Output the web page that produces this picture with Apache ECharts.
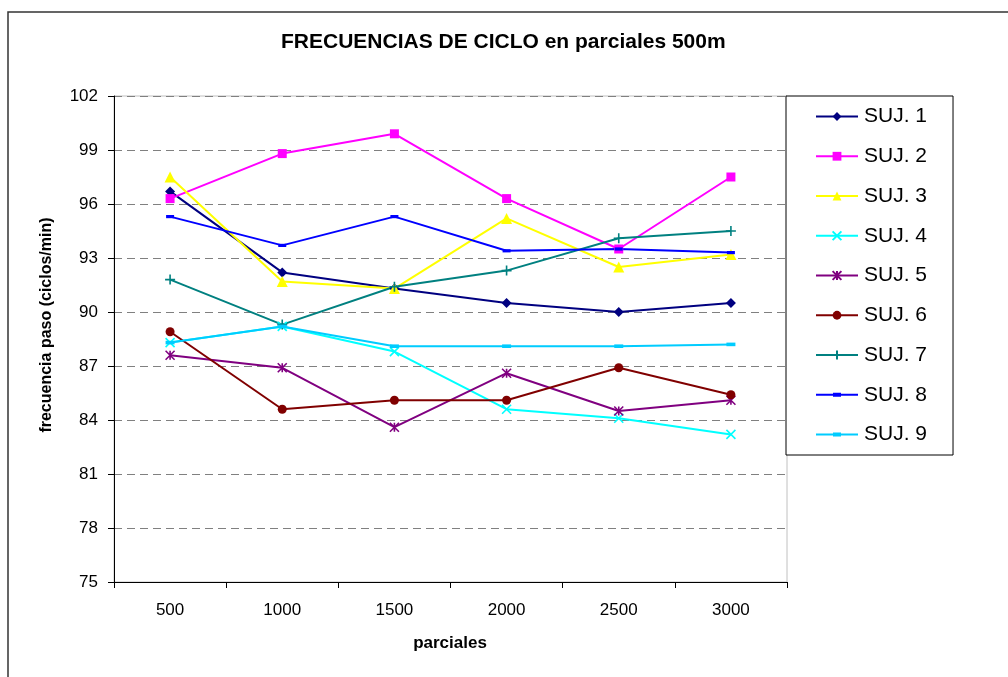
<!DOCTYPE html>
<html>
<head>
<meta charset="utf-8">
<script src="https://cdn.jsdelivr.net/npm/echarts@6/dist/echarts.min.js"></script>
<style>
html,body{margin:0;padding:0;background:#fff;}
#chart{width:1008px;height:677px;}
</style>
</head>
<body>
<div id="chart"></div>
<script>
var categories = ['500', '1000', '1500', '2000', '2500', '3000'];
var seriesNames = ['SUJ. 1', 'SUJ. 2', 'SUJ. 3', 'SUJ. 4', 'SUJ. 5', 'SUJ. 6', 'SUJ. 7', 'SUJ. 8', 'SUJ. 9'];
var suj1 = [96.7, 92.2, 91.3, 90.5, 90.0, 90.5];
var suj2 = [96.3, 98.8, 99.9, 96.3, 93.5, 97.5];
var suj3 = [97.5, 91.7, 91.3, 95.2, 92.5, 93.2];
var suj4 = [88.3, 89.2, 87.8, 84.6, 84.1, 83.2];
var suj5 = [87.6, 86.9, 83.6, 86.6, 84.5, 85.1];
var suj6 = [88.9, 84.6, 85.1, 85.1, 86.9, 85.4];
var suj7 = [91.8, 89.3, 91.4, 92.3, 94.1, 94.5];
var suj8 = [95.3, 93.7, 95.3, 93.4, 93.5, 93.3];
var suj9 = [88.3, 89.2, 88.1, 88.1, 88.1, 88.2];
var yTicks = [75, 78, 81, 84, 87, 90, 93, 96, 99, 102];

var allData = [suj1, suj2, suj3, suj4, suj5, suj6, suj7, suj8, suj9];
var colors = ['#000080', '#FF00FF', '#FFFF00', '#00FFFF', '#800080', '#800000', '#008080', '#0000FF', '#00CCFF'];
var dashPath = 'path://M0,3L10,3L10,7L0,7Z';
var symbols = [
  'diamond', 'rect', 'triangle',
  'path://M0,0L10,10M10,0L0,10',
  'path://M0,0L10,10M10,0L0,10M5,0L5,10',
  'circle',
  'path://M5,0L5,10M0,5L10,5',
  dashPath, dashPath
];
var sizes = [10, 9, 11, 9, 9, 9, 10, 8, 9];
var strokeSym = [false, false, false, true, true, false, true, false, false];
var legendDashIcon = 'path://M0,5L42,5L42,7L0,7ZM17,4L25,4L25,8L17,8Z';

var series = allData.map(function (d, i) {
  return {
    name: seriesNames[i],
    type: 'line',
    data: d,
    symbol: symbols[i],
    symbolSize: sizes[i],
    symbolKeepAspect: true,
    showAllSymbol: true,
    lineStyle: { color: colors[i], width: 2 },
    itemStyle: strokeSym[i]
      ? { color: colors[i], borderColor: colors[i], borderWidth: 1.6 }
      : { color: colors[i], borderWidth: 0 },
    emphasis: { disabled: true },
    animation: false
  };
});

var legendData = seriesNames.map(function (n, i) {
  return i >= 7 ? { name: n, icon: legendDashIcon } : { name: n };
});

var chart = echarts.init(document.getElementById('chart'), null, { renderer: 'canvas' });
chart.setOption({
  backgroundColor: '#fff',
  animation: false,
  title: {
    text: 'FRECUENCIAS DE CICLO en parciales 500m',
    left: 281,
    top: 32,
    padding: 0,
    textStyle: { fontFamily: 'Liberation Sans, Arial, sans-serif', fontSize: 21, fontWeight: 'bold', color: '#000' }
  },
  grid: {
    left: 114, top: 96, right: 221, bottom: 95,
    show: true, borderColor: '#c0c0c0', borderWidth: 1, backgroundColor: 'transparent'
  },
  legend: {
    orient: 'vertical',
    left: 786,
    top: 96,
    padding: [10, 26, 10, 29],
    itemWidth: 42,
    itemHeight: 11,
    itemGap: 18.75,
    backgroundColor: '#fff',
    borderColor: '#000',
    borderWidth: 1,
    textStyle: { fontFamily: 'Liberation Sans, Arial, sans-serif', fontSize: 21, color: '#000', lineHeight: 21, padding: [0, 0, 0, 1] },
    data: legendData
  },
  xAxis: {
    type: 'category',
    data: categories,
    boundaryGap: true,
    axisLine: { lineStyle: { color: '#000', width: 1 } },
    axisTick: { show: true, inside: false, length: 6, interval: 0, lineStyle: { color: '#000' } },
    axisLabel: { margin: 20, color: '#000', fontSize: 17, fontFamily: 'Liberation Sans, Arial, sans-serif', interval: 0 },
    splitLine: { show: false }
  },
  yAxis: {
    type: 'value',
    min: 75,
    max: 102,
    interval: 3,
    axisLine: { show: true, lineStyle: { color: '#000', width: 1 } },
    axisTick: { show: true, inside: false, length: 6, lineStyle: { color: '#000' } },
    axisLabel: {
      margin: 16, color: '#000', fontSize: 17, fontFamily: 'Liberation Sans, Arial, sans-serif',
      formatter: function (v) { return yTicks.indexOf(v) >= 0 ? String(v) : ''; }
    },
    splitLine: { show: true, lineStyle: { color: '#808080', type: [8, 5], width: 1 } }
  },
  graphic: [
    {
      type: 'rect',
      shape: { x: 8, y: 12, width: 1200, height: 900 },
      style: { fill: 'none', stroke: '#333', lineWidth: 1.5 },
      silent: true, z: 100
    },
    {
      type: 'text',
      x: 47, y: 325,
      rotation: Math.PI / 2,
      style: {
        text: 'frecuencia paso (ciclos/min)',
        fontFamily: 'Liberation Sans, Arial, sans-serif', fontSize: 16, fontWeight: 'bold',
        fill: '#000', align: 'center', verticalAlign: 'middle'
      }
    },
    {
      type: 'text',
      x: 450, y: 643,
      style: {
        text: 'parciales',
        fontFamily: 'Liberation Sans, Arial, sans-serif', fontSize: 17, fontWeight: 'bold',
        fill: '#000', align: 'center', verticalAlign: 'middle'
      }
    }
  ],
  series: series
});
</script>
</body>
</html>
